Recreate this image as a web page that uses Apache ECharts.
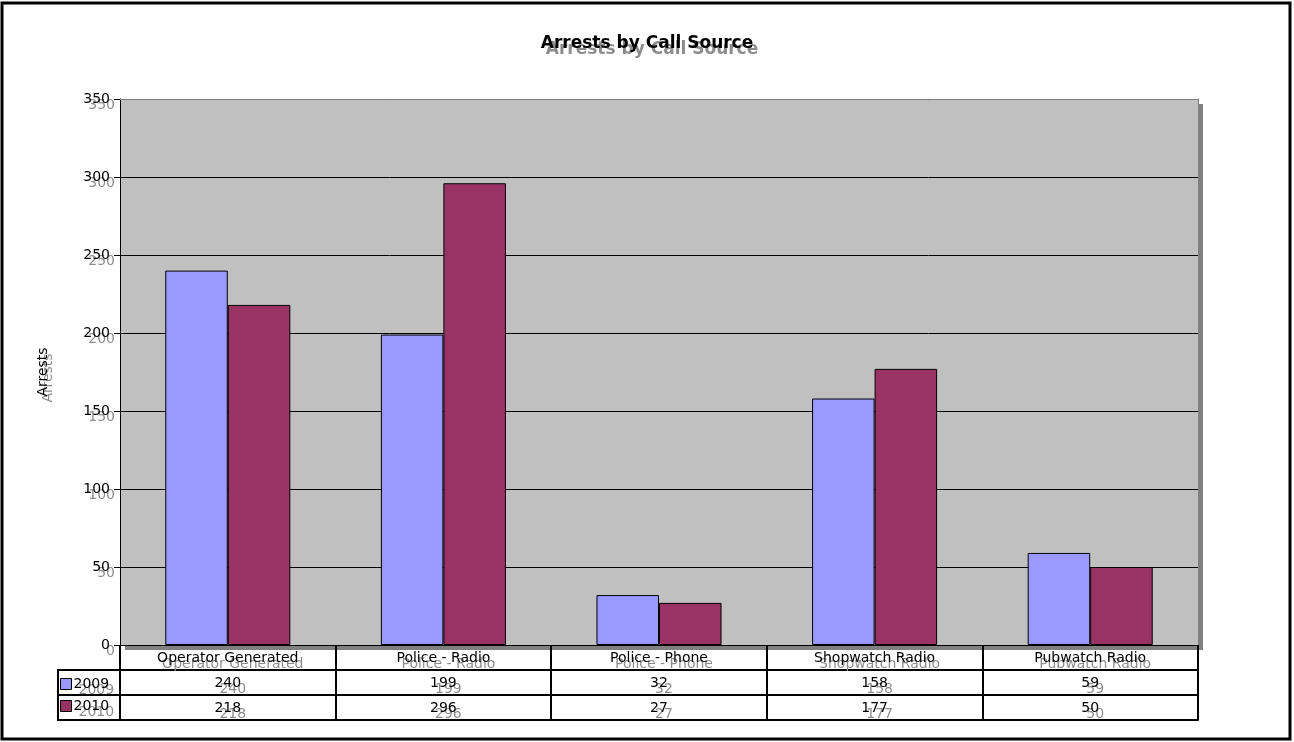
<!DOCTYPE html>
<html>
<head>
<meta charset="utf-8">
<script src="https://cdn.jsdelivr.net/npm/echarts@6/dist/echarts.min.js"></script>
<style>
  html, body { margin: 0; padding: 0; background: #fff; }
  #main { width: 1294px; height: 742px; }
</style>
</head>
<body>
<div id="main"></div>
<script>
var categories = ['Operator Generated', 'Police - Radio', 'Police - Phone', 'Shopwatch Radio', 'Pubwatch Radio'];
var years = ['2009', '2010'];
var arrests2009 = [240, 199, 32, 158, 59];
var arrests2010 = [218, 296, 27, 177, 50];

var chart = echarts.init(document.getElementById('main'));

var font = 'DejaVu Sans';
// the reference draws every text with a hard grey drop shadow
var shadowText = {
    fontFamily: font,
    fontSize: 14,
    color: '#000',
    textShadowColor: '#8c8c8c',
    textShadowOffsetX: 5,
    textShadowOffsetY: 6,
    textShadowBlur: 0.1
};

function tableAxis(data, offset, showTicks) {
    return {
        type: 'category',
        gridIndex: 0,
        position: 'bottom',
        offset: offset,
        data: data,
        axisLine: { show: true, onZero: false, lineStyle: { color: '#000', width: 2 } },
        axisTick: { show: showTicks, inside: false, length: 25, interval: 0, lineStyle: { color: '#000', width: 2 } },
        axisLabel: Object.assign({ show: showTicks, interval: 0, margin: 6 }, shadowText),
        splitLine: { show: false }
    };
}

var option = {
    backgroundColor: '#fff',
    animation: false,
    title: {
        text: 'Arrests by Call Source',
        left: 'center',
        top: 30,
        textStyle: Object.assign({}, shadowText, { fontWeight: 'bold', fontSize: 17 })
    },
    legend: {
        orient: 'vertical',
        left: 60,
        top: 677,
        itemWidth: 11,
        itemHeight: 11,
        itemGap: 8,
        icon: 'rect',
        padding: 0,
        data: years,
        textStyle: Object.assign({ padding: [0, 0, 0, -3] }, shadowText),
        itemStyle: { borderColor: '#000', borderWidth: 1 }
    },
    grid: {
        left: 120,
        right: 96,
        top: 99,
        bottom: 97,
        show: true,
        backgroundColor: '#c0c0c0',
        borderWidth: 0,
        shadowColor: '#808080',
        shadowOffsetX: 5,
        shadowOffsetY: 5,
        shadowBlur: 0
    },
    xAxis: [
        {
            type: 'category',
            data: categories,
            axisLine: { show: true, onZero: false, lineStyle: { color: '#000', width: 1 } },
            axisTick: { show: true, inside: false, length: 25, interval: 0, lineStyle: { color: '#000', width: 2 } },
            axisLabel: Object.assign({ interval: 0, margin: 6 }, shadowText),
            splitLine: { show: false }
        },
        tableAxis(arrests2009.map(String), 25, true),
        tableAxis(arrests2010.map(String), 50, true),
        tableAxis(categories, 75, false),
        // grey top edge of the plot area
        {
            type: 'category',
            position: 'top',
            data: categories,
            axisLine: { show: true, onZero: false, lineStyle: { color: '#808080', width: 1 } },
            axisTick: { show: false },
            axisLabel: { show: false },
            splitLine: { show: false }
        }
    ],
    yAxis: [
        {
            type: 'value',
            min: 0,
            max: 350,
            interval: 50,
            name: 'Arrests',
            nameLocation: 'middle',
            nameGap: 70,
            nameTextStyle: shadowText,
            axisLine: { show: true, onZero: false, lineStyle: { color: '#000', width: 1 } },
            axisTick: { show: true, inside: false, length: 6, lineStyle: { color: '#000' } },
            axisLabel: Object.assign({ margin: 10 }, shadowText),
            splitLine: { show: true, lineStyle: { color: '#000', width: 1 } }
        },
        // grey right edge of the plot area
        {
            type: 'value',
            position: 'right',
            min: 0,
            max: 350,
            interval: 50,
            axisLine: { show: true, onZero: false, lineStyle: { color: '#808080', width: 1 } },
            axisTick: { show: false },
            axisLabel: { show: false },
            splitLine: { show: false }
        }
    ],
    series: [
        {
            name: '2009',
            type: 'bar',
            data: arrests2009,
            barGap: '0%',
            barCategoryGap: '42%',
            itemStyle: { color: '#9999ff', borderColor: '#000', borderWidth: 1 }
        },
        {
            name: '2010',
            type: 'bar',
            data: arrests2010,
            itemStyle: { color: '#993366', borderColor: '#000', borderWidth: 1 }
        }
    ],
    graphic: [
        // outer chart frame
        { type: 'rect', shape: { x: 2, y: 3, width: 1288, height: 736 }, style: { fill: 'none', stroke: '#000', lineWidth: 3 }, silent: true },
        // legend cell of the data table
        { type: 'polyline', shape: { points: [[120, 670], [58, 670], [58, 720], [120, 720]] }, style: { fill: 'none', stroke: '#000', lineWidth: 2 }, silent: true },
        { type: 'line', shape: { x1: 58, y1: 695, x2: 120, y2: 695 }, style: { stroke: '#000', lineWidth: 2 }, silent: true }
    ]
};

chart.setOption(option);
</script>
</body>
</html>
